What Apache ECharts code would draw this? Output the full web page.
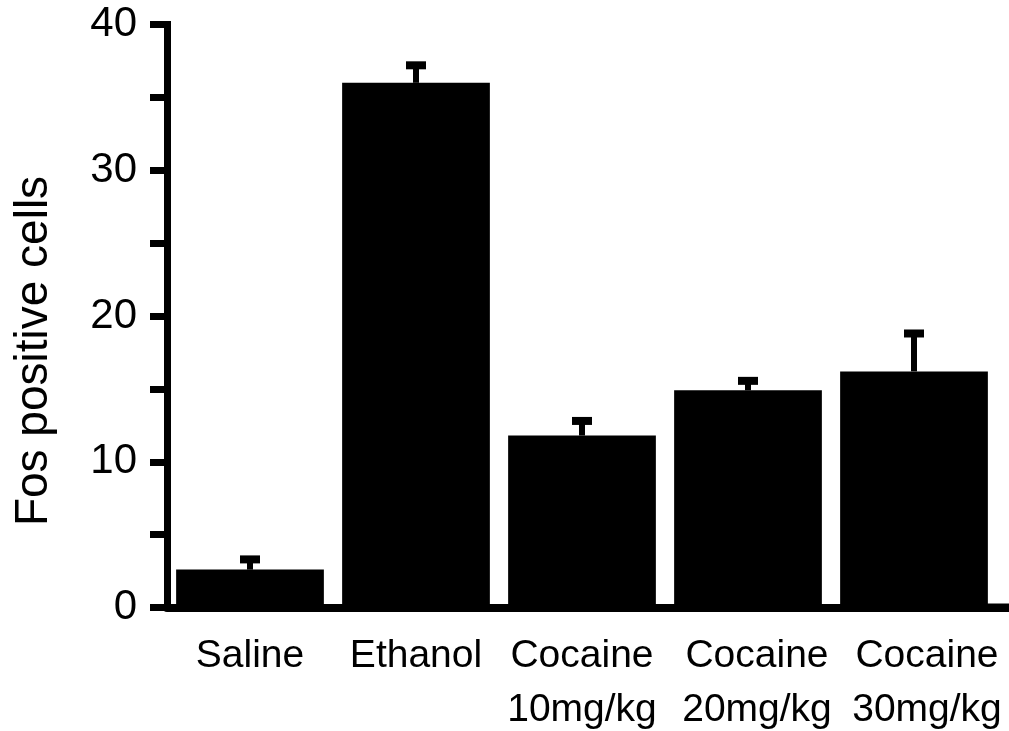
<!DOCTYPE html>
<html>
<head>
<meta charset="utf-8">
<script src="https://cdn.jsdelivr.net/npm/echarts@6/dist/echarts.min.js"></script>
<style>
  html, body { margin: 0; padding: 0; background: #fff; }
  #chart { width: 1009px; height: 731px; }
</style>
</head>
<body>
<div id="chart"></div>
<script>
// groups along the x axis
const categories = ['Saline', 'Ethanol', 'Cocaine\n10mg/kg', 'Cocaine\n20mg/kg', 'Cocaine\n30mg/kg'];
// mean Fos positive cells per group
const means = [2.6, 36.0, 11.8, 14.9, 16.2];
// upper error (SEM) per group
const errors = [0.7, 1.2, 1.0, 0.65, 2.6];
// y axis ticks
const yMin = 0;
const yMax = 40;
const yStep = 10;

const chart = echarts.init(document.getElementById('chart'), null, { renderer: 'canvas' });

const errData = categories.map((c, i) => [i, means[i], errors[i]]);

// labels of the last two groups sit a little right of their ticks in the original
const labelShift = [0, 0, 0, 18, 26];
const xData = categories.map((c, i) => ({
  value: c,
  textStyle: { padding: [0, 0, 0, labelShift[i]] }
}));

function renderError(params, api) {
  const idx = api.value(0);
  const base = api.coord([idx, api.value(1)]);
  const end = api.coord([idx, api.value(1) + api.value(2)]);
  return {
    type: 'group',
    children: [
      {
        type: 'line',
        shape: { x1: base[0], y1: base[1], x2: end[0], y2: end[1] },
        style: { stroke: '#000', lineWidth: 6 }
      },
      {
        type: 'rect',
        shape: { x: end[0] - 10, y: end[1] - 4, width: 20, height: 8 },
        style: { fill: '#000' }
      }
    ]
  };
}

const option = {
  backgroundColor: '#fff',
  animation: false,
  grid: {
    left: 167, right: 12, top: 24.5, bottom: 123.5,
    containLabel: false,
    outerBoundsMode: 'none'
  },
  xAxis: {
    type: 'category',
    data: xData,
    axisLine: { lineStyle: { color: '#000', width: 8 } },
    axisTick: { alignWithLabel: true, length: 9, lineStyle: { color: '#000', width: 7 } },
    axisLabel: {
      color: '#000',
      fontFamily: 'Liberation Sans',
      fontSize: 39,
      lineHeight: 54,
      margin: 22,
      interval: 0
    }
  },
  yAxis: {
    type: 'value',
    min: yMin,
    max: yMax,
    interval: yStep,
    name: 'Fos positive cells',
    nameLocation: 'middle',
    nameGap: 110,
    nameTextStyle: {
      color: '#000',
      fontFamily: 'Liberation Sans',
      fontSize: 46,
      padding: [0, 70, 0, 0]
    },
    splitLine: { show: false },
    axisLine: { show: true, lineStyle: { color: '#000', width: 7, cap: 'square' } },
    axisTick: { show: true, length: 17, lineStyle: { color: '#000', width: 7 } },
    minorTick: { show: true, splitNumber: 2, length: 17, lineStyle: { color: '#000', width: 7 } },
    axisLabel: {
      color: '#000',
      fontFamily: 'Liberation Sans',
      fontSize: 42,
      margin: 30
    }
  },
  series: [
    {
      type: 'bar',
      data: means,
      barWidth: '89%',
      itemStyle: { color: '#000' }
    },
    {
      type: 'custom',
      data: errData,
      renderItem: renderError,
      z: 5
    }
  ],
  graphic: [
    {
      // x axis line continues past the last group
      type: 'rect',
      shape: { x: 985, y: 603.5, width: 24, height: 8.5 },
      style: { fill: '#000' }
    }
  ]
};

chart.setOption(option);
</script>
</body>
</html>
